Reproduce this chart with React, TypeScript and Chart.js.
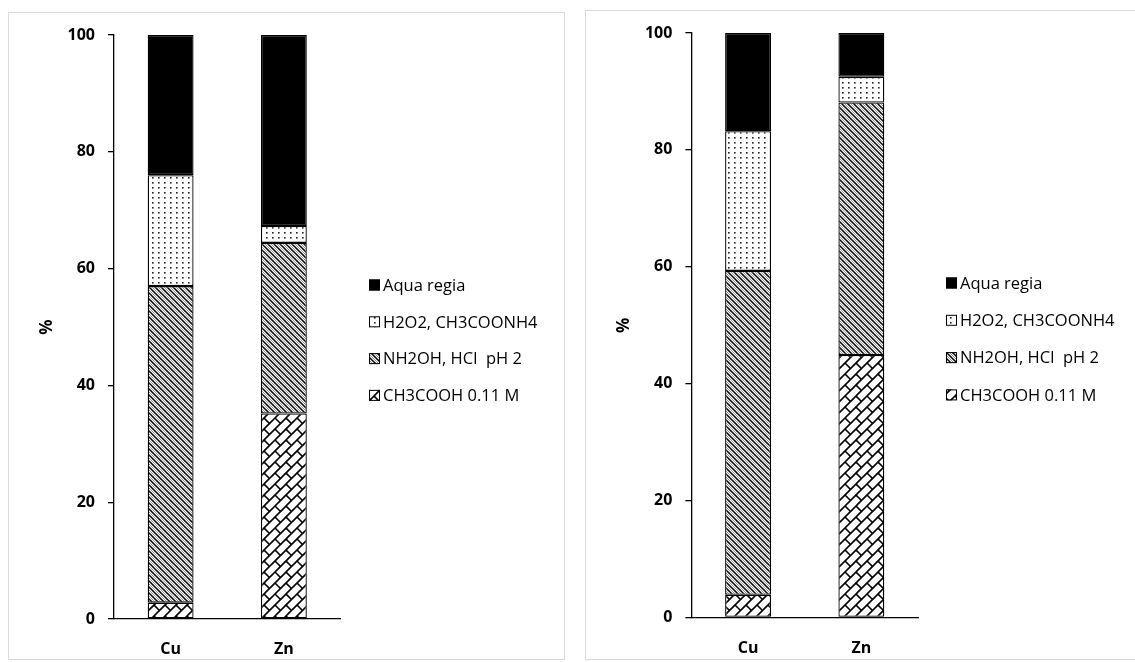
import React, { useEffect, useRef } from 'react';
import { Chart, registerables } from 'chart.js';

Chart.register(...registerables);

// ---------------- data ----------------
const categories = ['Cu', 'Zn'];
const seriesNames = ['CH3COOH 0.11 M', 'NH2OH, HCl  pH 2', 'H2O2, CH3COONH4', 'Aqua regia'];

// left panel (% of total)
const leftCH3COOH = [2.8, 35.2];
const leftNH2OH = [54.2, 29.2];
const leftH2O2 = [19.0, 2.9];
const leftAquaRegia = [24.0, 32.7];

// right panel (% of total)
const rightCH3COOH = [3.9, 44.9];
const rightNH2OH = [55.4, 43.2];
const rightH2O2 = [23.9, 4.4];
const rightAquaRegia = [16.8, 7.5];

const yTickLabels = [0, 20, 40, 60, 80, 100];
const yAxisTitle = '%';

const FONT = "'Open Sans', sans-serif";
Chart.defaults.font.family = FONT;

// ---------------- patterns ----------------
function makePattern(w: number, h: number, draw: (ctx: CanvasRenderingContext2D) => void): CanvasPattern {
  const c = document.createElement('canvas');
  c.width = w;
  c.height = h;
  const ctx = c.getContext('2d')!;
  ctx.fillStyle = '#ffffff';
  ctx.fillRect(0, 0, w, h);
  draw(ctx);
  const host = document.createElement('canvas').getContext('2d')!;
  return host.createPattern(c, 'repeat')!;
}

function makePatterns() {
  const dots = makePattern(6, 5, (ctx) => {
    ctx.fillStyle = '#222';
    ctx.fillRect(2, 2, 1.6, 1.6);
  });
  const diag = makePattern(6, 6, (ctx) => {
    ctx.lineCap = 'square';
    ctx.strokeStyle = '#000';
    ctx.lineWidth = 1.5;
    for (const k of [-6, 0, 6]) {
      ctx.beginPath();
      ctx.moveTo(k - 1, -1);
      ctx.lineTo(k + 7, 7);
      ctx.stroke();
    }
    ctx.strokeStyle = '#8a8a8a';
    ctx.lineWidth = 0.9;
    for (const k of [-9, -3, 3]) {
      ctx.beginPath();
      ctx.moveTo(k - 1, -1);
      ctx.lineTo(k + 7, 7);
      ctx.stroke();
    }
  });
  const T = 22;
  const R = T / 2;
  const brick = makePattern(T, T, (ctx) => {
    ctx.strokeStyle = '#000';
    ctx.lineWidth = 1.6;
    for (let s = -2 * T; s <= 4 * T; s += R) {
      ctx.beginPath();
      ctx.moveTo(s + 6, -6);
      ctx.lineTo(s - T - 6, T + 6);
      ctx.stroke();
    }
    for (let k = -4; k <= 8; k++) {
      const s0 = R * k;
      const s1 = R * k + R;
      const base = (((R * k) % T) + T) % T;
      for (let m = -4; m <= 4; m++) {
        const c = base + T * m;
        ctx.beginPath();
        ctx.moveTo((c + s0) / 2, (s0 - c) / 2);
        ctx.lineTo((c + s1) / 2, (s1 - c) / 2);
        ctx.stroke();
      }
    }
  });
  return { dots, diag, brick };
}

// legend drawn from the chart's own datasets (top item = last dataset)
const sideLegend = {
  id: 'sideLegend',
  afterDraw(chart: any, _args: any, opts: any) {
    const ctx: CanvasRenderingContext2D = chart.ctx;
    const items = chart.data.datasets.slice().reverse();
    ctx.save();
    ctx.font = `400 ${opts.fontSize}px ${FONT}`;
    ctx.textBaseline = 'middle';
    ctx.textAlign = 'left';
    items.forEach((d: any, i: number) => {
      const cy = opts.firstY + i * opts.step;
      const b = opts.box;
      ctx.fillStyle = d.backgroundColor;
      ctx.fillRect(opts.boxX, cy - b / 2, b, b);
      ctx.strokeStyle = '#000';
      ctx.lineWidth = 1;
      ctx.strokeRect(opts.boxX + 0.5, cy - b / 2 + 0.5, b - 1, b - 1);
      ctx.fillStyle = '#000';
      ctx.fillText(d.label, opts.textX, cy + 1);
    });
    ctx.restore();
  },
};

type Geom = {
  canvasW: number;
  padLeft: number;
  yWidth: number;
  top: number;
  bottom: number;
  right: number;
  boxX: number;
  textX: number;
  firstY: number;
  step: number;
};

const H = 662;

function Panel(props: { x: number; geom: Geom; series: number[][] }) {
  const ref = useRef<HTMLCanvasElement>(null);
  const { x, geom, series } = props;

  useEffect(() => {
    const canvas = ref.current!;
    const p = makePatterns();
    const fills: any[] = [p.brick, p.diag, p.dots, '#000000'];
    const datasets = series.map((vals, i) => ({
      label: seriesNames[i],
      data: vals,
      backgroundColor: fills[i],
      borderColor: '#000000',
      borderWidth: 1.3,
      borderSkipped: false,
      barPercentage: 0.405,
      categoryPercentage: 1,
    }));
    const tickFont = { family: FONT, size: 16, weight: 700 as any };
    const chart = new Chart(canvas, {
      type: 'bar',
      data: { labels: categories, datasets },
      plugins: [sideLegend],
      options: {
        responsive: false,
        animation: false,
        devicePixelRatio: 1,
        layout: {
          padding: {
            left: geom.padLeft,
            top: geom.top,
            right: geom.canvasW - geom.right,
            bottom: 0,
          },
        },
        plugins: {
          tooltip: { enabled: false },
          legend: { display: false },
          sideLegend: {
            boxX: geom.boxX,
            textX: geom.textX,
            firstY: geom.firstY,
            step: geom.step,
            box: 11,
            fontSize: 16.5,
          },
        } as any,
        scales: {
          x: {
            stacked: true,
            grid: { display: false },
            border: { display: true, color: '#000', width: 1.3 },
            ticks: { color: '#000', font: tickFont, padding: 13, maxRotation: 0 },
            afterFit: (s: any) => {
              s.height = H - geom.bottom;
            },
          },
          y: {
            stacked: true,
            min: yTickLabels[0],
            max: yTickLabels[yTickLabels.length - 1],
            ticks: {
              stepSize: yTickLabels[1] - yTickLabels[0],
              color: '#000',
              font: tickFont,
              padding: 13,
            },
            grid: { drawOnChartArea: false, drawTicks: true, tickLength: 6, color: '#000', lineWidth: 1.3 },
            border: { display: true, color: '#000', width: 1.3 },
            title: {
              display: true,
              text: yAxisTitle,
              color: '#000',
              font: { family: FONT, size: 17, weight: 700 as any },
              padding: { top: 4, bottom: 4 },
            },
            afterFit: (s: any) => {
              s.width = geom.yWidth;
            },
          },
        },
      } as any,
    });
    return () => chart.destroy();
  }, []);

  return (
    <canvas
      ref={ref}
      width={geom.canvasW}
      height={H}
      style={{ position: 'absolute', left: x, top: 0, width: geom.canvasW, height: H }}
    />
  );
}

const leftGeom: Geom = {
  canvasW: 570,
  padLeft: 33,
  yWidth: 81,
  top: 35,
  bottom: 619,
  right: 340.5,
  boxX: 369,
  textX: 383,
  firstY: 285,
  step: 36.8,
};

const rightGeom: Geom = {
  canvasW: 565,
  padLeft: 40,
  yWidth: 81.4,
  top: 33,
  bottom: 617.5,
  right: 348,
  boxX: 376,
  textX: 390,
  firstY: 283,
  step: 37.3,
};

export default function App() {
  return (
    <div
      style={{
        position: 'absolute',
        left: 0,
        top: 0,
        width: 1135,
        height: H,
        overflow: 'hidden',
        background: '#fff',
      }}
    >
      <div
        style={{
          position: 'absolute',
          left: 8,
          top: 12,
          width: 557,
          height: 648,
          border: '1px solid #d9d9d9',
          boxSizing: 'border-box',
        }}
      />
      <div
        style={{
          position: 'absolute',
          left: 585,
          top: 10,
          width: 600,
          height: 650,
          border: '1px solid #d9d9d9',
          boxSizing: 'border-box',
        }}
      />
      <Panel
        x={0}
        geom={leftGeom}
        series={[leftCH3COOH, leftNH2OH, leftH2O2, leftAquaRegia]}
      />
      <Panel
        x={570}
        geom={rightGeom}
        series={[rightCH3COOH, rightNH2OH, rightH2O2, rightAquaRegia]}
      />
    </div>
  );
}
